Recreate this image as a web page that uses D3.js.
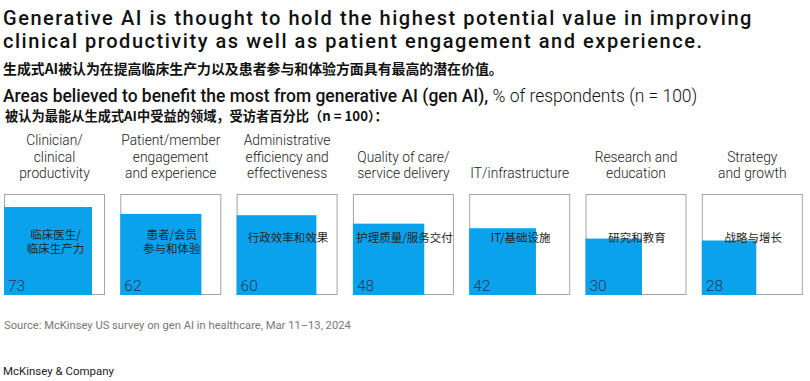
<!DOCTYPE html>
<html>
<head>
<meta charset="utf-8">
<script src="https://cdn.jsdelivr.net/npm/d3@7"></script>
<style>
  html, body { margin: 0; padding: 0; background: #fff; }
  svg { display: block; }
</style>
</head>
<body>
<svg id="chart" width="810" height="381"></svg>
<script>
// ---- data ----
const categories = [
  "Clinician/|clinical|productivity",
  "Patient/member|engagement|and experience",
  "Administrative|efficiency and|effectiveness",
  "Quality of care/|service delivery",
  "IT/infrastructure",
  "Research and|education",
  "Strategy|and growth"
];
const chineseLabels = [
  "临床医生/|临床生产力",
  "患者/会员|参与和体验",
  "行政效率和效果",
  "护理质量/服务交付",
  "IT/基础设施",
  "研究和教育",
  "战略与增长"
];
const values = [73, 62, 60, 48, 42, 30, 28];
const maxValue = 100;

const titleLines = [
  "Generative AI is thought to hold the highest potential value in improving",
  "clinical productivity as well as patient engagement and experience."
];
const titleCn = "生成式AI被认为在提高临床生产力以及患者参与和体验方面具有最高的潜在价值。";
const subtitleBold = "Areas believed to benefit the most from generative AI (gen AI),";
const subtitleRegular = " % of respondents (n = 100)";
const subtitleCn = "被认为最能从生成式AI中受益的领域，受访者百分比（n = 100）：";
const sourceText = "Source: McKinsey US survey on gen AI in healthcare, Mar 11–13, 2024";
const footerText = "McKinsey & Company";

// ---- drawing ----
const svg = d3.select("#chart");
const head = "Roboto, 'Noto Sans', sans-serif";
const light = "Roboto, 'Noto Sans', sans-serif";
const cjk = "'Noto Sans CJK SC', sans-serif";

function fit(sel, width) {
  const w = sel.node().getComputedTextLength();
  const fs = parseFloat(sel.attr("font-size"));
  sel.attr("font-size", (fs * width / w).toFixed(2));
}
function spread(sel, width) {
  const w = sel.node().getComputedTextLength();
  const n = sel.text().length;
  sel.attr("letter-spacing", ((width - w) / n).toFixed(3));
}

// title
const t1 = svg.append("text").attr("x", 3).attr("y", 25)
  .attr("font-family", head).attr("font-weight", 500).attr("font-size", 20)
  .attr("fill", "#111").text(titleLines[0]);
spread(t1, 750);
svg.append("text").attr("x", 3).attr("y", 48)
  .attr("font-family", head).attr("font-weight", 500).attr("font-size", 20)
  .attr("letter-spacing", t1.attr("letter-spacing"))
  .attr("fill", "#111").text(titleLines[1]);
const tc = svg.append("text").attr("x", 3).attr("y", 74)
  .attr("font-family", cjk).attr("font-weight", 700).attr("font-size", 12)
  .attr("fill", "#111").text(titleCn);
fit(tc, 500);

// subtitle
const st = svg.append("text").attr("x", 3).attr("y", 102)
  .attr("font-family", head).attr("font-size", 15.5).attr("fill", "#111");
st.append("tspan").attr("font-weight", 500).text(subtitleBold);
st.append("tspan").attr("font-weight", 300).text(subtitleRegular);
fit(st, 695);
const sc = svg.append("text").attr("x", 5).attr("y", 121)
  .attr("font-family", cjk).attr("font-weight", 700).attr("font-size", 11)
  .attr("fill", "#111").text(subtitleCn);
fit(sc, 383);

// scales
const x = d3.scaleBand().domain(categories).range([4, 802.8]).paddingInner(0.1316).paddingOuter(0);
const boxSize = x.bandwidth();
const boxBottom = 295;
const side = d3.scaleSqrt().domain([0, maxValue]).range([0, 103]);

const g = svg.append("g");
const cells = g.selectAll("g.cell").data(categories).join("g")
  .attr("class", "cell")
  .attr("transform", d => `translate(${x(d)},0)`);

// category labels (bottom aligned)
cells.each(function(d) {
  const lines = d.split("|");
  const n = lines.length;
  const txt = d3.select(this).append("text")
    .attr("text-anchor", "middle")
    .attr("font-family", light).attr("font-weight", 300).attr("font-size", 13.8)
    .attr("fill", "#222");
  lines.forEach((l, i) => {
    txt.append("tspan").attr("x", boxSize / 2)
      .attr("y", 178 - (n - 1 - i) * 16.5).text(l);
  });
});

// outer box
cells.append("rect")
  .attr("x", 0.5).attr("y", boxBottom - boxSize + 0.5)
  .attr("width", boxSize - 1).attr("height", boxSize - 1)
  .attr("fill", "#fff").attr("stroke", "#a3a3a3").attr("stroke-width", 1);

// value squares
cells.append("rect")
  .attr("x", 0)
  .attr("y", (d, i) => boxBottom - side(values[i]))
  .attr("width", (d, i) => side(values[i]))
  .attr("height", (d, i) => side(values[i]))
  .attr("fill", "#0aa2ec");

// chinese labels
cells.each(function(d, i) {
  const lines = chineseLabels[i].split("|");
  const n = lines.length;
  lines.forEach((l, j) => {
    d3.select(this).append("text")
      .attr("text-anchor", "middle")
      .attr("font-family", cjk).attr("font-size", 11.5)
      .attr("fill", "#262626")
      .attr("x", boxSize / 2 + 1)
      .attr("y", 242 + (n - 1) * 4 + (j - (n - 1) / 2) * 14.5)
      .text(l);
  });
});

// values
cells.append("text")
  .attr("x", 4).attr("y", 291)
  .attr("font-family", light).attr("font-weight", 300).attr("font-size", 15.5)
  .attr("fill", "#1d3a5a")
  .text((d, i) => values[i]);

// source & footer
const src = svg.append("text").attr("x", 4).attr("y", 329)
  .attr("font-family", light).attr("font-size", 11).attr("fill", "#777")
  .text(sourceText);
fit(src, 347);
const ft = svg.append("text").attr("x", 3).attr("y", 375)
  .attr("font-family", light).attr("font-size", 11).attr("fill", "#222")
  .text(footerText);
fit(ft, 111);
</script>
</body>
</html>
